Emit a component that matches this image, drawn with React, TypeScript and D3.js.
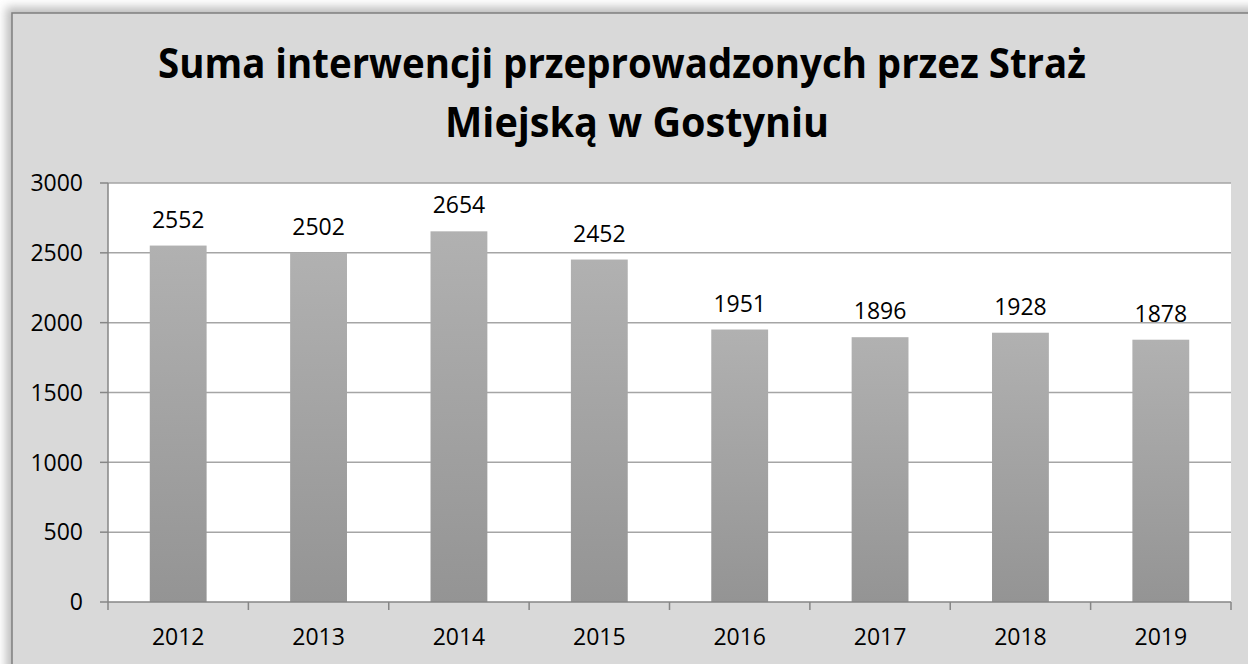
import React from "react";
import * as d3 from "d3";

const years = ["2012", "2013", "2014", "2015", "2016", "2017", "2018", "2019"];
const interventions = [2552, 2502, 2654, 2452, 1951, 1896, 1928, 1878];
const yTicks = [0, 500, 1000, 1500, 2000, 2500, 3000];
const titleLines = ["Suma interwencji przeprowadzonych przez Straż", "Miejską w Gostyniu"];

const W = 1248;
const H = 664;
const plot = { left: 108, right: 1231, top: 183, bottom: 602 };
const font = "'Open Sans', 'DejaVu Sans', sans-serif";

export default function App() {
  const x = d3
    .scaleBand<string>()
    .domain(years)
    .range([plot.left, plot.right])
    .paddingInner(0.595)
    .paddingOuter(0.2975);
  const y = d3.scaleLinear().domain([0, 3000]).range([plot.bottom, plot.top]);
  const step = x.step();

  return (
    <svg
      width={W}
      height={H}
      style={{ position: "fixed", left: 0, top: 0, display: "block", background: "#fff" }}
    >
      <defs>
        <linearGradient id="barFill" x1="0" y1="0" x2="0" y2="1">
          <stop offset="0" stopColor="#b1b1b1" />
          <stop offset="1" stopColor="#949494" />
        </linearGradient>
        <filter id="shadow" x="-5%" y="-5%" width="110%" height="110%">
          <feGaussianBlur stdDeviation="5" />
        </filter>
      </defs>

      {/* chart frame with soft shadow */}
      <rect x={6} y={7} width={1260} height={700} fill="#bdbdbd" filter="url(#shadow)" />
      <rect x={12} y={13} width={1250} height={700} fill="#d9d9d9" stroke="#7f7f7f" strokeWidth={1.5} />

      {/* title */}
      <text
        x={158}
        y={78}
        fontFamily={font}
        fontWeight="bold"
        fontSize={42}
        textLength={928}
        lengthAdjust="spacingAndGlyphs"
        fill="#000"
      >
        {titleLines[0]}
      </text>
      <text
        x={445}
        y={137}
        fontFamily={font}
        fontWeight="bold"
        fontSize={42}
        textLength={384}
        lengthAdjust="spacingAndGlyphs"
        fill="#000"
      >
        {titleLines[1]}
      </text>

      {/* plot area */}
      <rect x={plot.left} y={plot.top} width={plot.right - plot.left} height={plot.bottom - plot.top} fill="#fff" />

      {yTicks.map((t) => (
        <g key={t}>
          {t > 0 && (
            <line x1={plot.left} x2={plot.right} y1={y(t)} y2={y(t)} stroke="#a5a5a5" strokeWidth={1.5} />
          )}
          <line x1={plot.left - 8} x2={plot.left} y1={y(t)} y2={y(t)} stroke="#868686" strokeWidth={1.5} />
          <text
            x={83}
            y={y(t)}
            dy="0.36em"
            textAnchor="end"
            fontFamily={font}
            fontSize={23}
            fill="#000"
          >
            {t}
          </text>
        </g>
      ))}

      {years.map((yr, i) => (
        <g key={yr}>
          <rect
            x={x(yr)}
            y={y(interventions[i])}
            width={x.bandwidth()}
            height={y(0) - y(interventions[i])}
            fill="url(#barFill)"
          />
          <text
            x={(x(yr) ?? 0) + x.bandwidth() / 2}
            y={y(interventions[i]) - 18}
            textAnchor="middle"
            fontFamily={font}
            fontSize={23}
            fill="#000"
          >
            {interventions[i]}
          </text>
          <text
            x={(x(yr) ?? 0) + x.bandwidth() / 2}
            y={645}
            textAnchor="middle"
            fontFamily={font}
            fontSize={23}
            fill="#000"
          >
            {yr}
          </text>
        </g>
      ))}

      {/* axes */}
      <line x1={plot.left} x2={plot.left} y1={plot.top} y2={plot.bottom} stroke="#868686" strokeWidth={1.5} />
      <line x1={plot.left} x2={plot.right} y1={plot.bottom} y2={plot.bottom} stroke="#868686" strokeWidth={1.5} />
      {d3.range(years.length + 1).map((k) => (
        <line
          key={k}
          x1={plot.left + k * step}
          x2={plot.left + k * step}
          y1={plot.bottom}
          y2={plot.bottom + 8}
          stroke="#868686"
          strokeWidth={1.5}
        />
      ))}
    </svg>
  );
}
